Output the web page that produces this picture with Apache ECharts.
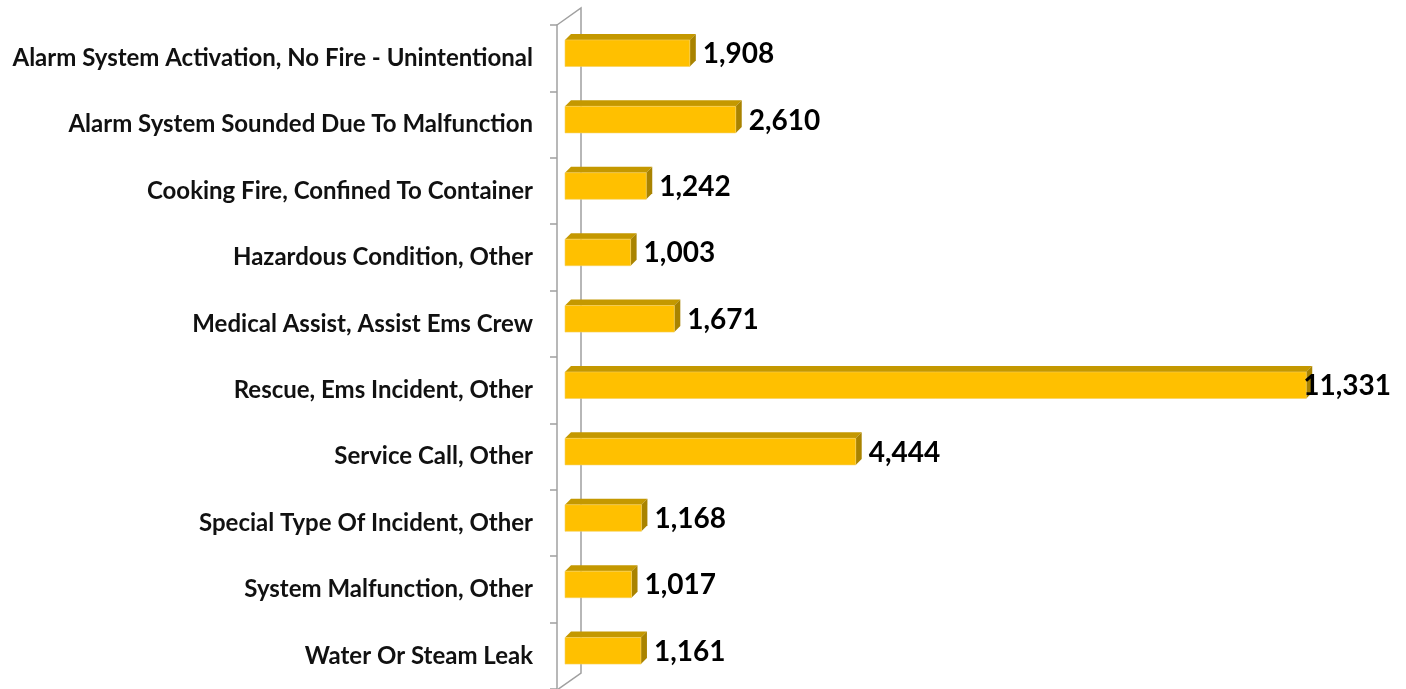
<!DOCTYPE html>
<html><head><meta charset="utf-8">
<script src="https://cdn.jsdelivr.net/npm/echarts@6/dist/echarts.min.js"></script>
<style>html,body{margin:0;padding:0;background:#fff}#c{width:1406px;height:689px}</style>
</head><body><div id="c"></div>
<script>
const categories = [
  'Alarm System Activation, No Fire - Unintentional',
  'Alarm System Sounded Due To Malfunction',
  'Cooking Fire, Confined To Container',
  'Hazardous Condition, Other',
  'Medical Assist, Assist Ems Crew',
  'Rescue, Ems Incident, Other',
  'Service Call, Other',
  'Special Type Of Incident, Other',
  'System Malfunction, Other',
  'Water Or Steam Leak'
];
const values = [1908, 2610, 1242, 1003, 1671, 11331, 4444, 1168, 1017, 1161];

const GRID = {left: 557, top: 25, right: 64, bottom: -3};
const LABEL_FONT = 'bold 28px Lato, "Open Sans", sans-serif';
const measureCtx = document.createElement('canvas').getContext('2d');
measureCtx.font = LABEL_FONT;

function renderItem(params, api) {
  const v = api.value(0), idx = api.value(1);
  const p0 = api.coord([0, idx]);
  const p1 = api.coord([v, idx]);
  const band = api.size([0, 1])[1];
  const off = 8, d = 6;
  const x0 = p0[0] + off, x1 = p1[0] + off;
  const yc = p0[1] - band * 0.075;
  const h = band * 0.4;
  const yt = yc - h / 2, yb = yc + h / 2;
  const txt = v.toLocaleString('en-US');
  const w = measureCtx.measureText(txt).width;
  let lx = x1 + d + 7;
  if (lx + w > 1391) lx = 1391 - w;
  return {
    type: 'group',
    children: [
      {type: 'polygon', shape: {points: [[x0, yt], [x0 + d, yt - d], [x1 + d, yt - d], [x1, yt]]},
       style: {fill: '#C49800'}},
      {type: 'polygon', shape: {points: [[x1, yt], [x1 + d, yt - d], [x1 + d, yb - d], [x1, yb]]},
       style: {fill: '#A98300'}},
      {type: 'rect', shape: {x: x0, y: yt, width: x1 - x0, height: h},
       style: {fill: '#FFC000', stroke: '#F5D060', lineWidth: 0.6}},
      {type: 'text', style: {x: lx, y: yc + 1, text: txt, font: LABEL_FONT, fill: '#000',
        textAlign: 'left', textVerticalAlign: 'middle'}, z2: 10}
    ]
  };
}

const chart = echarts.init(document.getElementById('c'), null, {renderer: 'canvas'});
const wallDX = 24, wallDY = 17;
chart.setOption({
  animation: false,
  backgroundColor: '#fff',
  grid: GRID,
  xAxis: {type: 'value', min: 0, max: 12000, show: false},
  yAxis: {
    type: 'category', data: categories, inverse: true,
    axisLine: {show: true, lineStyle: {color: '#A0A0A0', width: 1.5}},
    axisTick: {show: true, length: 7, lineStyle: {color: '#A0A0A0', width: 1.5}},
    axisLabel: {margin: 24, color: '#111', fontFamily: 'Lato, "Open Sans", sans-serif',
      fontWeight: 'bold', fontSize: 24},
    splitLine: {show: false}
  },
  graphic: [{
    type: 'polyline',
    shape: {points: [[GRID.left, GRID.top], [GRID.left + wallDX, GRID.top - wallDY],
      [GRID.left + wallDX, 689 - GRID.bottom - wallDY - 2], [GRID.left, 689 - GRID.bottom - 2]]},
    style: {stroke: '#A0A0A0', lineWidth: 1.5, fill: null},
    z: -1
  }],
  series: [{
    type: 'custom',
    renderItem: renderItem,
    encode: {x: 0, y: 1},
    data: values.map((v, i) => [v, i])
  }]
});
</script></body></html>
